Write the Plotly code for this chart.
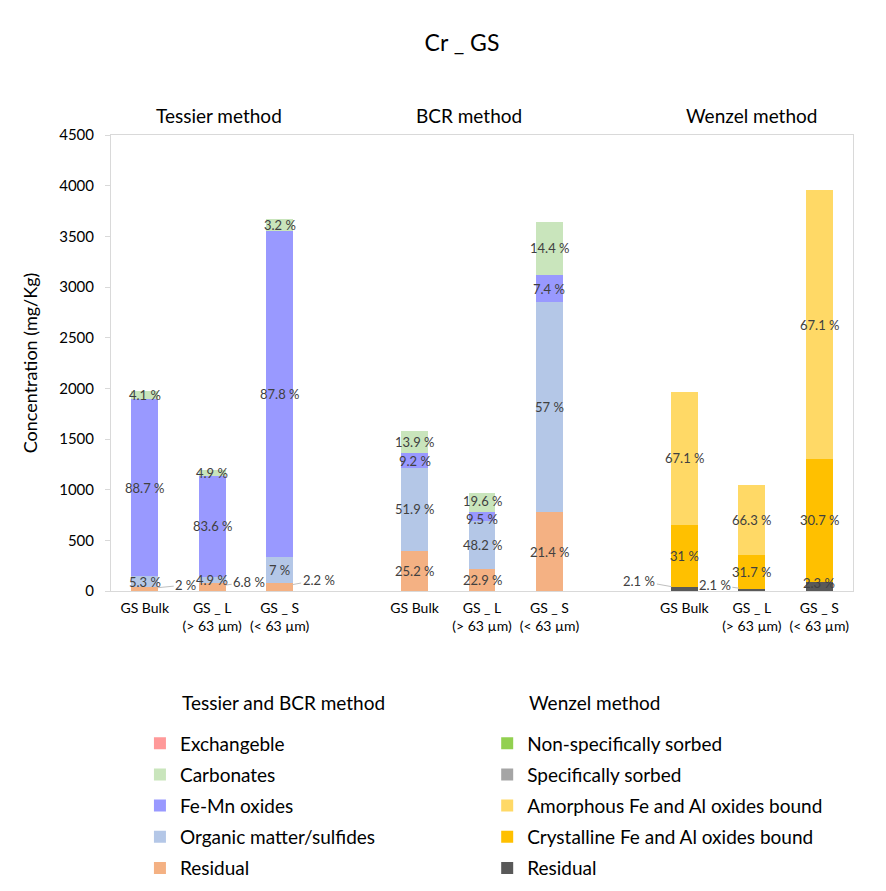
import plotly.graph_objects as go

FONT = "Lato"
TXT = "#404040"

# ---- categories (slots on the x axis, gaps between the three methods) ----
sample_slots = [0, 1, 2, 4, 5, 6, 8, 9, 10]
sample_ticks = ["GS Bulk", "GS _ L<br>(> 63 µm)", "GS _ S<br>(< 63 µm)"] * 3
method_names = ["Tessier method", "BCR method", "Wenzel method"]
method_slots = [1.1, 4.8, 9.0]

tb_x = [0, 1, 2, 4, 5, 6]   # Tessier (GS Bulk, GS_L, GS_S), BCR (same)
wz_x = [8, 9, 10]           # Wenzel

# ---- Tessier & BCR fractions (mg/Kg) ----
tb_residual = [40, 81, 81, 397, 221, 778]
tb_organic = [105, 59, 256, 817, 465, 2072]
tb_femn = [1752, 999, 3215, 145, 92, 269]
tb_carbonates = [81, 59, 117, 219, 189, 523]
tb_exchangeable = [0, 0, 0, 0, 0, 0]

tb_residual_lbl = ["2 %", "6.8 %", "2.2 %", "25.2 %", "22.9 %", "21.4 %"]
tb_organic_lbl = ["5.3 %", "4.9 %", "7 %", "51.9 %", "48.2 %", "57 %"]
tb_femn_lbl = ["88.7 %", "83.6 %", "87.8 %", "9.2 %", "9.5 %", "7.4 %"]
tb_carbonates_lbl = ["4.1 %", "4.9 %", "3.2 %", "13.9 %", "19.6 %", "14.4 %"]
tb_exchangeable_lbl = ["", "", "", "", "", ""]

# ---- Wenzel fractions (mg/Kg) ----
wz_residual = [41, 22, 91]
wz_crystalline = [609, 333, 1213]
wz_amorphous = [1318, 696, 2650]
wz_specific = [0, 0, 0]
wz_nonspecific = [0, 0, 0]

wz_residual_lbl = ["2.1 %", "2.1 %", "2.3 %"]
wz_crystalline_lbl = ["31 %", "31.7 %", "30.7 %"]
wz_amorphous_lbl = ["67.1 %", "66.3 %", "67.1 %"]
wz_specific_lbl = ["", "", ""]
wz_nonspecific_lbl = ["", "", ""]

# series in stacking order (bottom -> top)
series = [
    # key, name, x, values, labels, color, legend, rank
    ("tb_res", "Residual", tb_x, tb_residual, tb_residual_lbl, "#F4B183", "legend", 5),
    ("tb_org", "Organic matter/sulfides", tb_x, tb_organic, tb_organic_lbl, "#B4C7E7", "legend", 4),
    ("tb_fem", "Fe-Mn oxides", tb_x, tb_femn, tb_femn_lbl, "#9999FF", "legend", 3),
    ("tb_car", "Carbonates", tb_x, tb_carbonates, tb_carbonates_lbl, "#C9E5BC", "legend", 2),
    ("tb_exc", "Exchangeble", tb_x, tb_exchangeable, tb_exchangeable_lbl, "#FF9999", "legend", 1),
    ("wz_res", "Residual", wz_x, wz_residual, wz_residual_lbl, "#595959", "legend2", 5),
    ("wz_cry", "Crystalline Fe and Al oxides bound", wz_x, wz_crystalline, wz_crystalline_lbl, "#FFC000", "legend2", 4),
    ("wz_amo", "Amorphous Fe and Al oxides bound", wz_x, wz_amorphous, wz_amorphous_lbl, "#FFD966", "legend2", 3),
    ("wz_spe", "Specifically sorbed", wz_x, wz_specific, wz_specific_lbl, "#A5A5A5", "legend2", 2),
    ("wz_non", "Non-specifically sorbed", wz_x, wz_nonspecific, wz_nonspecific_lbl, "#92D050", "legend2", 1),
]

# labels of tiny segments placed beside the bar with a leader line (pixel offsets)
side_labels = {
    ("tb_res", 0): (41, -4),
    ("tb_res", 1): (37, -5),
    ("tb_res", 2): (39, -7),
    ("wz_res", 0): (-45, -8),
    ("wz_res", 1): (-37, -5),
}
# small vertical nudges (pixels) for crowded labels
label_nudge = {
    ("tb_car", 4): 2,
    ("tb_fem", 4): -2,
    ("wz_res", 2): 3,
}

fig = go.Figure()
annotations = []
base = {}
for key, name, xs, vals, lbls, color, leg, rank in series:
    fig.add_trace(go.Bar(
        x=xs, y=vals, name=name, width=0.4,
        marker=dict(color=color, line=dict(width=0)),
        legend=leg, legendrank=rank, legendgroup=key,
        hovertemplate=name + ": %{y} mg/Kg<extra></extra>",
    ))
    for i, (xv, v, lb) in enumerate(zip(xs, vals, lbls)):
        b = base.get(xv, 0)
        yc = b + v / 2
        base[xv] = b + v
        if not lb:
            continue
        if (key, i) in side_labels:
            ax, ay = side_labels[(key, i)]
            annotations.append(dict(
                x=xv, y=yc, xref="x", yref="y", text=lb, showarrow=True,
                ax=ax, ay=ay, arrowhead=0, arrowwidth=1, arrowcolor="#BFBFBF",
                standoff=13, font=dict(family=FONT, size=13, color=TXT),
            ))
        else:
            annotations.append(dict(
                x=xv, y=yc, xref="x", yref="y", text=lb, showarrow=False,
                yshift=label_nudge.get((key, i), 0),
                font=dict(family=FONT, size=13, color=TXT),
            ))

for nm, sx in zip(method_names, method_slots):
    annotations.append(dict(
        x=sx, y=1, xref="x", yref="paper", yanchor="bottom", yshift=6,
        text=nm, showarrow=False, font=dict(family=FONT, size=19, color="#000000"),
    ))

# legend headings
annotations.append(dict(x=0.093, y=-0.244, xref="paper", yref="paper", xanchor="left",
                        yanchor="middle", text="Tessier and BCR method", showarrow=False,
                        font=dict(family=FONT, size=19, color="#000000")))
annotations.append(dict(x=0.561, y=-0.244, xref="paper", yref="paper", xanchor="left",
                        yanchor="middle", text="Wenzel method", showarrow=False,
                        font=dict(family=FONT, size=19, color="#000000")))

legend_common = dict(
    orientation="v", traceorder="grouped", tracegroupgap=3.5,
    font=dict(family=FONT, size=19, color="#000000"),
    bgcolor="rgba(0,0,0,0)", yanchor="top", xanchor="left",
    itemclick=False, itemdoubleclick=False,
)

fig.update_layout(
    width=886, height=891,
    barmode="stack",
    paper_bgcolor="white", plot_bgcolor="white",
    margin=dict(l=103, r=41, t=127, b=307.5, autoexpand=False),
    font=dict(family=FONT, color="#000000"),
    title=dict(text="Cr _ GS", x=(462 - 8) / 886, xref="container", xanchor="center",
               y=1 - (43 - 8) / 891, yref="container", yanchor="middle",
               font=dict(family=FONT, size=23, color="#000000")),
    showlegend=True,
    legend=dict(x=0.039, y=-0.2924, **legend_common),
    legend2=dict(x=0.507, y=-0.2924, **legend_common),
    annotations=annotations,
    xaxis=dict(
        range=[-0.5, 10.5], tickmode="array", tickvals=sample_slots, ticktext=sample_ticks,
        showline=True, linecolor="#D9D9D9", linewidth=1, mirror=True,
        showgrid=False, zeroline=False, ticks="", ticklabelstandoff=4,
        tickfont=dict(family=FONT, size=14, color="#000000"),
        automargin=False,
    ),
    yaxis=dict(
        range=[0, 4500], dtick=500, tick0=0,
        showline=True, linecolor="#D9D9D9", linewidth=1, mirror=True,
        showgrid=False, zeroline=False,
        ticks="outside", ticklen=5, tickcolor="#D9D9D9", ticklabelstandoff=8,
        tickfont=dict(family=FONT, size=15, color="#000000"),
        title=dict(text="Concentration (mg/Kg)", standoff=16,
                   font=dict(family=FONT, size=18, color="#000000")),
        automargin=False,
    ),
)

fig.write_html("out.html")
